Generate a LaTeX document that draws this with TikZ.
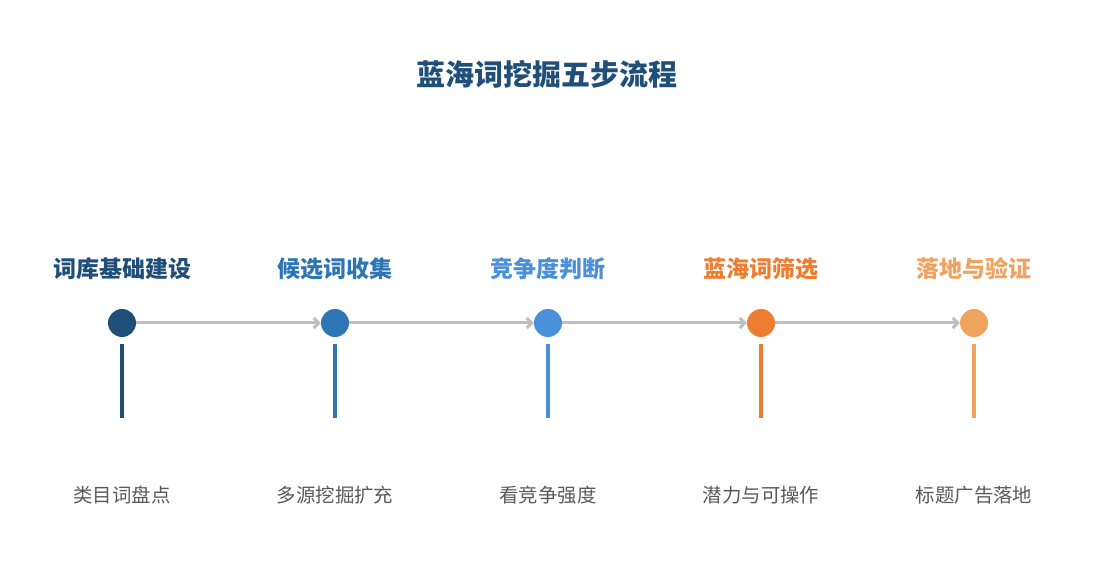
\documentclass[tikz,border=0pt]{standalone}
\usepackage{fontspec}
\setmainfont{Noto Sans CJK SC}
\usetikzlibrary{arrows.meta,positioning}
\definecolor{stepA}{HTML}{1F4E79}
\definecolor{stepB}{HTML}{2E75B6}
\definecolor{stepC}{HTML}{4A90D9}
\definecolor{stepD}{HTML}{ED7D31}
\definecolor{stepE}{HTML}{F0A35E}
\definecolor{link}{HTML}{BFBFBF}
\definecolor{note}{HTML}{595959}

\begin{document}
\begin{tikzpicture}[x=1pt,y=-1pt,
  dot/.style={circle,fill=#1,minimum size=28pt,inner sep=0pt},
  head/.style={font=\fontsize{23}{26}\selectfont\bfseries,text=#1},
  note/.style={font=\fontsize{19.4}{23}\selectfont,text=note},
  link/.style={draw=link,line width=3pt,-{Straight Barb[length=5pt,width=10pt]}},
  stem/.style={draw=#1,line width=4pt}]
\useasboundingbox (0,0) rectangle (1095,585);

\node[font=\fontsize{29}{32}\selectfont\bfseries,text=stepA] (title) at (547,74) {蓝海词挖掘五步流程};

\node[dot=stepA] (c1) at (122,323) {};
\node[dot=stepB] (c2) at (335,323) {};
\node[dot=stepC] (c3) at (548,323) {};
\node[dot=stepD] (c4) at (761,323) {};
\node[dot=stepE] (c5) at (974,323) {};

\node[head=stepA] (h1) at (122,269) {词库基础建设};
\node[head=stepB] (h2) at (335,269) {候选词收集};
\node[head=stepC] (h3) at (548,269) {竞争度判断};
\node[head=stepD] (h4) at (761,269) {蓝海词筛选};
\node[head=stepE] (h5) at (974,269) {落地与验证};

\node[note] (n1) at (122,495) {类目词盘点};
\node[note] (n2) at (335,495) {多源挖掘扩充};
\node[note] (n3) at (548,495) {看竞争强度};
\node[note] (n4) at (761,495) {潜力与可操作};
\node[note] (n5) at (974,495) {标题广告落地};

\draw[link] (c1) -- (c2);
\draw[link] (c2) -- (c3);
\draw[link] (c3) -- (c4);
\draw[link] (c4) -- (c5);

\draw[stem=stepA] ([yshift=-7pt]c1.south) -- ++(0,74);
\draw[stem=stepB] ([yshift=-7pt]c2.south) -- ++(0,74);
\draw[stem=stepC] ([yshift=-7pt]c3.south) -- ++(0,74);
\draw[stem=stepD] ([yshift=-7pt]c4.south) -- ++(0,74);
\draw[stem=stepE] ([yshift=-7pt]c5.south) -- ++(0,74);

\end{tikzpicture}
\end{document}
